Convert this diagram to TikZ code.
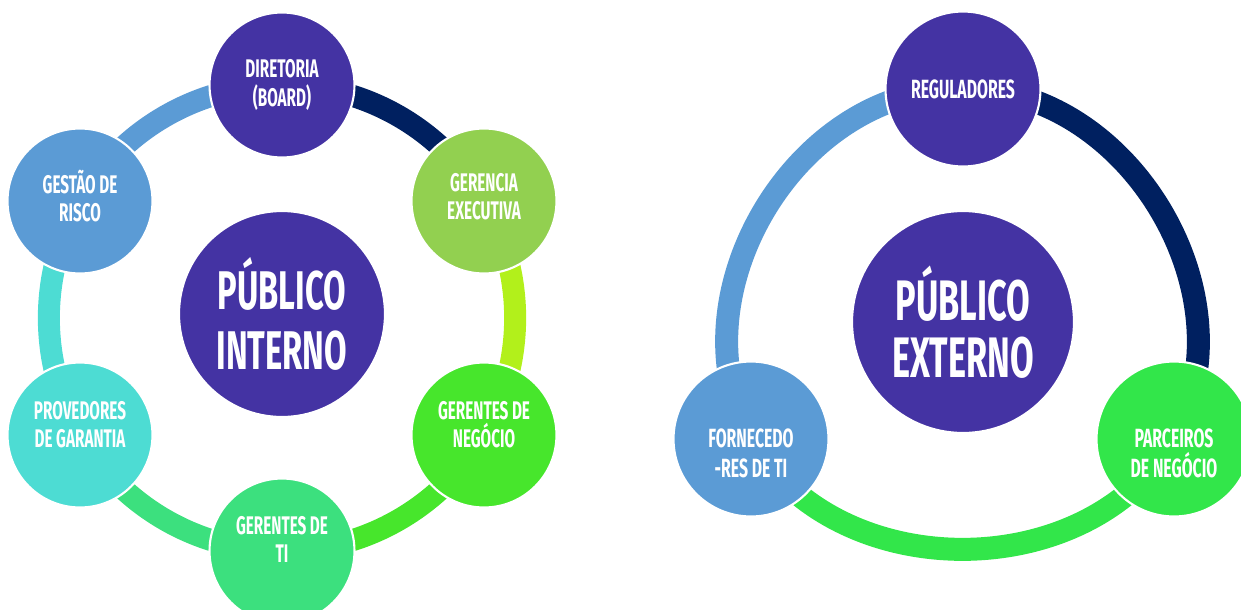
\documentclass[tikz,border=0pt]{standalone}
\usepackage{fontspec}
\newfontfamily\bebas{Fira Sans}[FakeStretch=0.6]
\usetikzlibrary{backgrounds}
\definecolor{roxo}{HTML}{4433A3}
\definecolor{marinho}{HTML}{002060}
\definecolor{verdeclaro}{HTML}{92D050}
\definecolor{lima}{HTML}{B2F01B}
\definecolor{verdeneg}{HTML}{47E62C}
\definecolor{verdeti}{HTML}{3CE07E}
\definecolor{turquesa}{HTML}{4DDCD3}
\definecolor{azul}{HTML}{5B9BD5}
\definecolor{verdeparc}{HTML}{32E64A}

\begin{document}
\begin{tikzpicture}[x=0.02cm,y=-0.02cm,
    bola/.style={circle,fill=#1,draw=white,line width=1.2pt,inner sep=0pt,align=center,text=white,minimum size=2.9cm,font=\bebas\bfseries\fontsize{14.5}{16}\selectfont},
    bolaext/.style={bola=#1,minimum size=3.1cm,font=\bebas\bfseries\fontsize{15}{17}\selectfont},
    centro/.style={bola=roxo,minimum size=4.12cm,font=\bebas\bfseries\fontsize{31}{34}\selectfont},
    anel/.style={line width=0.44cm,draw=#1,bend left=30,looseness=0.91},
    anelext/.style={line width=0.46cm,draw=#1,bend left=60,looseness=1.03}]
                \path[use as bounding box,clip] (0,0) rectangle (1241,609);

                \node[centro] (pi) at (282,314) {PÚBLICO\\INTERNO};
                \node[bola=roxo] (dir) at (282,85) {DIRETORIA\\(BOARD)};
                \node[bola=verdeclaro] (ger) at (484,201) {GERENCIA\\EXECUTIVA\\[-10.4pt]\mbox{}};
                \node[bola=verdeneg] (neg) at (484,435) {GERENTES DE\\NEGÓCIO\\[-3.6pt]\mbox{}};
                \node[bola=verdeti] (ti) at (282,551) {GERENTES DE\\TI\\[-2.4pt]\mbox{}};
                \node[bola=turquesa] (prov) at (80,435) {PROVEDORES\\DE GARANTIA\\[-3.6pt]\mbox{}};
                \node[bola=azul] (gest) at (80,201) {GESTÃO DE\\RISCO\\[-10.4pt]\mbox{}};

                \node[centro,minimum size=4.44cm,font=\bebas\bfseries\fontsize{32.5}{32.5}\selectfont] (pe) at (963,322) {PÚBLICO\\EXTERNO};
                \node[bolaext=roxo] (reg) at (963,89) {REGULADORES};
                \node[bolaext=verdeparc] (parc) at (1174,439) {\mbox{}\\[10pt]PARCEIROS\\DE NEGÓCIO};
                \node[bolaext=azul] (forn) at (751,439) {\mbox{}\\[10pt]FORNECEDO\\-RES DE TI};

                \begin{pgfonlayer}{background}
                \draw[anel=marinho] (dir.center) to (ger.center);
                \draw[anel=lima] (ger.center) to (neg.center);
                \draw[anel=verdeneg] (neg.center) to (ti.center);
                \draw[anel=verdeti] (ti.center) to (prov.center);
                \draw[anel=turquesa] (prov.center) to (gest.center);
                \draw[anel=azul] (gest.center) to (dir.center);

                \draw[anelext=marinho] (reg.center) to (parc.center);
                \draw[anelext=verdeparc] (parc.center) to (forn.center);
                \draw[anelext=azul] (forn.center) to (reg.center);
                \end{pgfonlayer}
            \end{tikzpicture}
\end{document}
